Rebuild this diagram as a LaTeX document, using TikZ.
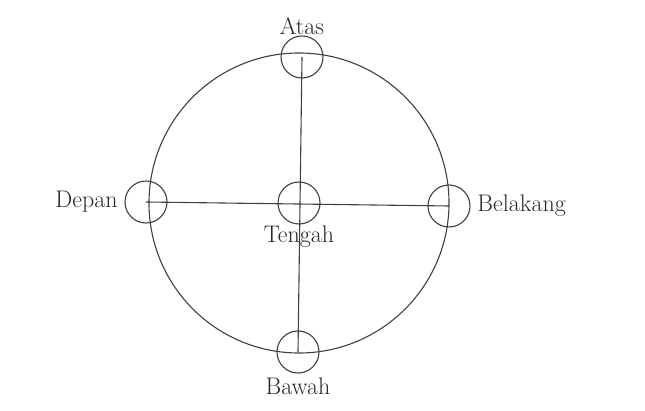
\documentclass[tikz,border=0pt]{standalone}
\usepackage{tikz}
\usetikzlibrary{positioning}

\begin{document}
\begin{tikzpicture}[x=1pt,y=-1pt,line width=1.1pt,
  titik/.style={draw=black!75,circle,minimum size=42pt,inner sep=0pt},
  lab/.style={font=\fontsize{24}{28}\selectfont,text=black!85}]
  \useasboundingbox (0,0) rectangle (645,411);
  \coordinate (O) at (299,203);
  \draw[black!75] (O) circle (150);
  \node[titik] (atas) at (302,57) {};
  \node[titik] (depan) at (146,202) {};
  \node[titik] (tengah) at (299,203) {};
  \node[titik] (belakang) at (449,206) {};
  \node[titik] (bawah) at (298,352) {};
  \draw[black!75] (atas.center)--(bawah.center);
  \draw[black!75] (depan.center)--(belakang.center);
  \foreach \p/\lab/\pos in {atas/Atas/above,tengah/Tengah/below}{
    \node[lab,\pos=-3pt of \p] {\lab};
  }
  \node[lab,below=0pt of bawah] {Bawah};
  \node[lab,left=3pt of depan] {Depan};
  \node[lab,right=3pt of belakang] {Belakang};
\end{tikzpicture}
\end{document}
